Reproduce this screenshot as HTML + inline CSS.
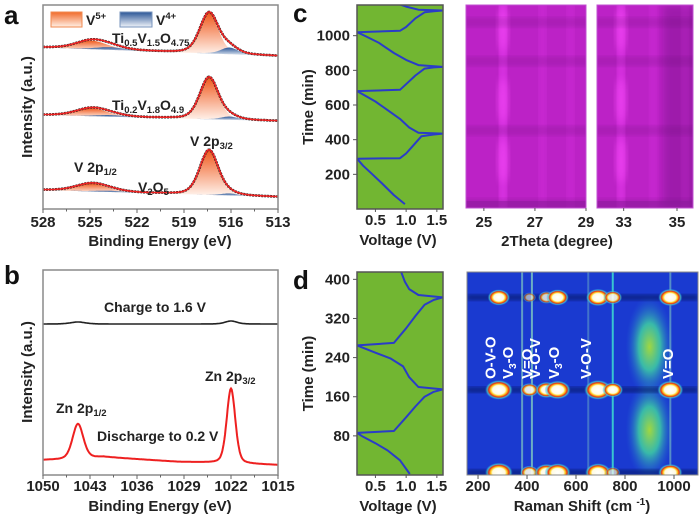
<!DOCTYPE html>
<html><head><meta charset="utf-8"><style>
html,body{margin:0;padding:0;background:#fff;}
svg{display:block;font-family:"Liberation Sans",Arial,sans-serif;font-weight:bold;}
</style></head><body>
<svg id="fig" width="700" height="520" viewBox="0 0 700 520" xmlns="http://www.w3.org/2000/svg">
<defs>
<linearGradient id="gOr" x1="0" y1="0" x2="0" y2="1"><stop offset="0" stop-color="#f05a1e"/><stop offset="1" stop-color="#fff3ec"/></linearGradient>
<linearGradient id="gBl" x1="0" y1="0" x2="0" y2="1"><stop offset="0" stop-color="#2a5596"/><stop offset="1" stop-color="#e4ebf4"/></linearGradient>
<linearGradient id="gOrL" x1="0" y1="0" x2="0" y2="1"><stop offset="0" stop-color="#f06a2a"/><stop offset="1" stop-color="#fff0e6"/></linearGradient>
<linearGradient id="gBlL" x1="0" y1="0" x2="0" y2="1"><stop offset="0" stop-color="#2a5596"/><stop offset="1" stop-color="#f0f4fa"/></linearGradient>
<radialGradient id="spot"><stop offset="0" stop-color="#fff"/><stop offset="0.45" stop-color="#fffbe0"/><stop offset="0.58" stop-color="#ffd020"/><stop offset="0.72" stop-color="#e83010"/><stop offset="0.85" stop-color="#40e0e0" stop-opacity="0.7"/><stop offset="1" stop-color="#2060e0" stop-opacity="0"/></radialGradient>
<radialGradient id="blob"><stop offset="0" stop-color="#b0e830"/><stop offset="0.45" stop-color="#40d8a0" stop-opacity="0.9"/><stop offset="1" stop-color="#2060d8" stop-opacity="0"/></radialGradient>
<filter id="blur2"><feGaussianBlur stdDeviation="2"/></filter>
<filter id="blur4"><feGaussianBlur stdDeviation="4"/></filter>
</defs>
<g id="root"></g>
</svg>
<script>
// ---------------- DATA ----------------
const aSamples = ['V2O5', 'Ti0.2V1.8O4.9', 'Ti0.5V1.5O4.75'];
const aOffsets = [5.9, 43.1, 75.0];
const aV5p32 = [22.0, 20.6, 20.0];
const aV5p12 = [3.9, 3.9, 4.2];
const aV4p32 = [1.0, 1.6, 3.3];
const aV4p12 = [0.6, 0.8, 1.3];
const aPeakCenters = [517.4, 524.9, 516.1, 523.7];
const aPeakWidths = [1.4, 2.4, 1.3, 2.2];
const aBaseSlope = [3.4, 3.0, 4.2];
const aTicks = [528, 525, 522, 519, 516, 513];
const bTicks = [1050, 1043, 1036, 1029, 1022, 1015];
const bBaseE = [1050, 1046, 1041, 1030, 1015];
const bBaseDis = [7.5, 7.8, 9.0, 6.6, 5.0];
const bPeakCenters = [1044.8, 1022.0];
const bPeakDis = [17.5, 37.5];
const bPeakCh = [1.0, 1.5];
const bPeakWidths = [1.9, 1.5];
const bChargeOffset = 75.5;
const cVolt = [0.98,0.8,0.6,0.45,0.3,0.2, 0.2,0.9,1.0,1.1,1.25,1.45,1.6, 1.6,1.2,1.05,0.9,0.7,0.5,0.35,0.2, 0.2,0.9,1.0,1.15,1.3,1.45,1.6, 1.6,1.2,1.0,0.8,0.55,0.35,0.2, 0.2,0.9,1.0,1.15,1.3,1.45,1.6, 1.6,1.2,1.0,0.9];
const cTime = [28,80,150,200,250,290, 290,293,320,360,420,430,435, 435,440,470,520,570,620,650,680, 680,688,720,770,810,817,820, 820,830,860,900,960,995,1020, 1020,1028,1050,1100,1135,1141,1145, 1145,1150,1168,1180];
const cTimeTicks = [200, 400, 600, 800, 1000];
const vTicks = [0.5, 1.0, 1.5];
const xrd1Peaks = [25.75, 27.3, 28.4];
const xrd1Amp = [0.75, 0.3, 0.25];
const xrd2Peaks = [32.9, 34.1, 35.3];
const xrd2Amp = [0.7, 0.25, 0.2];
const xrdDarkTimes = [1080, 860, 470, 60];
const xrdBrightTimes = [1040, 640, 300];
const xrd1Ticks = [25, 27, 29];
const xrd2Ticks = [33, 35];
const dVolt = [1.06,0.9,0.7,0.5,0.3,0.2, 0.2,0.8,1.0,1.15,1.3,1.45,1.6, 1.6,1.2,1.05,0.95,0.75,0.5,0.3,0.2, 0.2,0.8,1.0,1.15,1.3,1.45,1.6, 1.6,1.2,1.05,0.98,0.92];
const dTime = [2,30,50,65,78,86, 86,90,118,140,160,170,175, 175,180,200,222,238,250,260,265, 265,270,300,325,348,358,363, 363,368,380,395,415];
const dTimeTicks = [80, 160, 240, 320, 400];
const ramanLines = [380, 420, 650, 750, 985];
const ramanLineAmp = [0.6, 0.7, 0.35, 0.8, 0.5];
const ramanPeaks = [285, 410, 480, 525, 690, 750, 985];
const ramanSpotTimes = [5, 174, 363];
const ramanSpotAmp = [[1.0,0.5,0.8,0.9,0.9,0.3,0.8],[1.0,0.5,0.7,0.9,1.0,0.6,0.9],[0.7,0.2,0.4,0.7,0.8,0.5,0.8]];
const ramanBlobCenters = [900, 900];
const ramanBlobTimes = [262, 92];
const ramanTicks = [200, 400, 600, 800, 1000];
const ramanLabels = ['O-V-O', 'V3-O', 'V=O', 'V-O-V', 'V3-O', 'V-O-V', 'V=O'];
const ramanLabelPos = [250, 322, 400, 432, 510, 640, 975];

// ---------------- HELPERS ----------------
const NS = 'http://www.w3.org/2000/svg';
const root = document.getElementById('root');
function mk(tag, attrs, parent) {
  const e = document.createElementNS(NS, tag);
  for (const k in attrs) e.setAttribute(k, attrs[k]);
  (parent || root).appendChild(e);
  return e;
}
function lin(d0, d1, r0, r1) { return v => r0 + (v - d0) / (d1 - d0) * (r1 - r0); }
function pv(x, c, w) { const g = Math.exp(-4 * Math.LN2 * (x - c) * (x - c) / (w * w)); const l = 1 / (1 + 4 * (x - c) * (x - c) / (w * w)); return 0.7 * g + 0.3 * l; }
function txt(x, y, s, size, parent, anchor, fill) {
  const t = mk('text', {x: x, y: y, 'font-size': size, 'text-anchor': anchor || 'middle', fill: fill || '#222'}, parent);
  t.textContent = s; return t;
}
function subTxt(x, y, parts, size, parent, anchor, fill) {
  const t = mk('text', {x: x, y: y, 'font-size': size, 'text-anchor': anchor || 'start', fill: fill || '#222'}, parent);
  parts.forEach(p => {
    const s = document.createElementNS(NS, 'tspan');
    if (p[1] === 'sub') { s.setAttribute('font-size', size * 0.68); s.setAttribute('dy', 3); }
    else if (p[1] === 'sup') { s.setAttribute('font-size', size * 0.68); s.setAttribute('dy', -6); }
    else if (p[1] === 'back') { s.setAttribute('dy', -3); }
    s.textContent = p[0]; t.appendChild(s);
  });
  return t;
}
function frame(x0, y0, x1, y1, parent, color) {
  return mk('rect', {x: x0, y: y0, width: x1 - x0, height: y1 - y0, fill: 'none', stroke: color || '#8a8a8a', 'stroke-width': 1.5}, parent);
}

// ---------------- PANEL A ----------------
const ga = mk('g', {});


const axA = lin(528, 513, 43, 278);
const ayA = lin(0, 100, 209, 5);
const la = txt(4, 24, 'a', 26, ga, 'start', '#111');


aSamples.forEach((name, i) => {
  const g = mk('g', {}, ga);
  
  
  const base = e => aOffsets[i] + aBaseSlope[i] * (e - 513) / 15;
  const comps = [aV5p32[i], aV5p12[i], aV4p32[i], aV4p12[i]];
  const E = []; for (let k = 0; k <= 300; k++) E.push(528 - k * 0.05);
  [[0, 'url(#gOr)'], [1, 'url(#gOr)'], [2, 'url(#gBl)'], [3, 'url(#gBl)']].forEach(([ci, fill]) => {
    const c = aPeakCenters[ci], w = aPeakWidths[ci];
    const pts = E.filter(e => Math.abs(e - c) < w * 1.6);
    let d = 'M' + pts.map(e => axA(e).toFixed(1) + ',' + ayA(base(e) + comps[ci] * pv(e, c, w)).toFixed(1)).join(' L');
    d += ' L' + pts.slice().reverse().map(e => axA(e).toFixed(1) + ',' + ayA(base(e)).toFixed(1)).join(' L') + 'Z';
    const p = mk('path', {d: d, fill: fill, stroke: 'none'}, g);
    
    
  });
  const total = e => base(e) + comps.reduce((s, h, ci) => s + h * pv(e, aPeakCenters[ci], aPeakWidths[ci]), 0);
  const d = 'M' + E.map(e => axA(e).toFixed(1) + ',' + ayA(total(e)).toFixed(1)).join(' L');
  const pe = mk('path', {d: d, fill: 'none', stroke: '#222', 'stroke-width': 2.6, 'stroke-dasharray': '2 1'}, g);
  
  
  const pf = mk('path', {d: d, fill: 'none', stroke: '#ee2222', 'stroke-width': 1.6}, g);
  
  
});
const fa = frame(43, 5, 278, 209, ga);


aTicks.forEach((t, i) => {
  mk('line', {x1: axA(t), x2: axA(t), y1: 209, y2: 213, stroke: '#666', 'stroke-width': 1}, ga);
  if (i < aTicks.length - 1) mk('line', {x1: axA(t - 1.5), x2: axA(t - 1.5), y1: 209, y2: 211.5, stroke: '#666', 'stroke-width': 1}, ga);
  const tl = txt(axA(t), 227, String(t), 15, ga);
  
  
});
const xta = txt(160, 246, 'Binding Energy (eV)', 15, ga);


const yta = txt(0, 0, 'Intensity (a.u.)', 15, ga);
yta.setAttribute('transform', 'translate(32,107) rotate(-90)');


const leg5 = mk('rect', {x: 51, y: 12, width: 31, height: 15, fill: 'url(#gOrL)', stroke: '#f08a50', 'stroke-width': 1}, ga);


const lt5 = subTxt(86, 25, [['V'], ['5+', 'sup']], 14, ga);


const leg4 = mk('rect', {x: 120, y: 12, width: 32, height: 15, fill: 'url(#gBlL)', stroke: '#7a95bd', 'stroke-width': 1}, ga);


const lt4 = subTxt(156, 25, [['V'], ['4+', 'sup']], 14, ga);


const an1 = subTxt(112, 43, [['Ti'], ['0.5', 'sub'], ['V', 'back'], ['1.5', 'sub'], ['O', 'back'], ['4.75', 'sub']], 14, ga);


const an2 = subTxt(112, 110, [['Ti'], ['0.2', 'sub'], ['V', 'back'], ['1.8', 'sub'], ['O', 'back'], ['4.9', 'sub']], 14, ga);


const an3 = subTxt(190, 146, [['V 2p'], ['3/2', 'sub']], 14, ga);


const an4 = subTxt(74, 172, [['V 2p'], ['1/2', 'sub']], 14, ga);


const an5 = subTxt(138, 192, [['V'], ['2', 'sub'], ['O', 'back'], ['5', 'sub']], 14, ga);



// ---------------- PANEL B ----------------
const gb = mk('g', {});


const axB = lin(1050, 1015, 43, 278);
const ayB = lin(0, 100, 475, 275);
const lb = txt(4, 284, 'b', 26, gb, 'start', '#111');


function bBase(e) {
  for (let k = 0; k < bBaseE.length - 1; k++) {
    if (e <= bBaseE[k] && e >= bBaseE[k + 1]) { const f = (bBaseE[k] - e) / (bBaseE[k] - bBaseE[k + 1]); return bBaseDis[k] + f * (bBaseDis[k + 1] - bBaseDis[k]); }
  }
  return bBaseDis[bBaseDis.length - 1];
}
const EB = []; for (let k = 0; k <= 350; k++) EB.push(1050 - k * 0.1);
const disD = 'M' + EB.map(e => axB(e).toFixed(1) + ',' + ayB(bBase(e) + bPeakDis.reduce((s, h, i) => s + h * pv(e, bPeakCenters[i], bPeakWidths[i]), 0)).toFixed(1)).join(' L');
const chD = 'M' + EB.map(e => axB(e).toFixed(1) + ',' + ayB(bChargeOffset + bPeakCh.reduce((s, h, i) => s + h * pv(e, bPeakCenters[i], bPeakWidths[i] * 1.4), 0)).toFixed(1)).join(' L');
const pdis = mk('path', {d: disD, fill: 'none', stroke: '#ee2020', 'stroke-width': 2}, gb);


const pch = mk('path', {d: chD, fill: 'none', stroke: '#222', 'stroke-width': 1.6}, gb);


const fb = frame(43, 270, 278, 475, gb);


bTicks.forEach((t, i) => {
  mk('line', {x1: axB(t), x2: axB(t), y1: 475, y2: 479, stroke: '#666', 'stroke-width': 1}, gb);
  if (i < bTicks.length - 1) mk('line', {x1: axB(t - 3.5), x2: axB(t - 3.5), y1: 475, y2: 477.5, stroke: '#666', 'stroke-width': 1}, gb);
  const tl = txt(axB(t), 491, String(t), 15, gb);
  
  
});
const xtb = txt(160, 511, 'Binding Energy (eV)', 15, gb);


const ytb = txt(0, 0, 'Intensity (a.u.)', 15, gb);
ytb.setAttribute('transform', 'translate(32,372) rotate(-90)');


const bt1 = txt(155, 312, 'Charge to 1.6 V', 14, gb);


const bt2 = subTxt(205, 381, [['Zn 2p'], ['3/2', 'sub']], 14, gb);


const bt3 = subTxt(56, 413, [['Zn 2p'], ['1/2', 'sub']], 14, gb);


const bt4 = txt(97, 441, 'Discharge to 0.2 V', 14, gb, 'start');



// ---------------- VOLTAGE PANELS ----------------
function voltagePanel(y0, y1, tMax, volts, times, ticks, name, letter) {
  const g = mk('g', {});
  
  
  const ax = lin(0.2, 1.6, 357, 443);
  const ay = lin(0, tMax, y1, y0);
  const bg = mk('rect', {x: 357, y: y0, width: 86, height: y1 - y0, fill: '#72b632'}, g);
  
  
  const d = 'M' + volts.map((v, i) => ax(v).toFixed(1) + ',' + ay(times[i]).toFixed(1)).join(' L');
  const cp = mk('clipPath', {id: 'clip' + letter}, g);
  mk('rect', {x: 357, y: y0, width: 86, height: y1 - y0}, cp);
  const line = mk('path', {d: d, fill: 'none', stroke: '#2a3cc8', 'stroke-width': 2, 'stroke-linejoin': 'round', 'clip-path': 'url(#clip' + letter + ')'}, g);
  
  
  const f = frame(357, y0, 443, y1, g, '#555');
  
  
  ticks.forEach(t => {
    mk('line', {x1: 353, x2: 357, y1: ay(t), y2: ay(t), stroke: '#555', 'stroke-width': 1}, g);
    const tl = txt(350, ay(t) + 5, String(t), 15, g, 'end');
    
    
  });
  vTicks.forEach(v => {
    mk('line', {x1: ax(v), x2: ax(v), y1: y1, y2: y1 + 3, stroke: '#555', 'stroke-width': 1}, g);
    const tl = txt(ax(v), y1 + 16, v.toFixed(1), 15, g);
    
    
  });
  const xt = txt(398, y1 + 36, 'Voltage (V)', 15, g);
  
  
  const yt = txt(0, 0, 'Time (min)', 15, g);
  yt.setAttribute('transform', 'translate(313,' + ((y0 + y1) / 2) + ') rotate(-90)');
  
  
  const pl = txt(293, y0 + 17, letter, 26, g, 'start', '#111');
  
  
  return g;
}
voltagePanel(5, 209, 1177, cVolt, cTime, cTimeTicks, 'panel-c-voltage', 'c');
voltagePanel(272, 475, 415, dVolt, dTime, dTimeTicks, 'panel-d-voltage', 'd');

// ---------------- XRD HEATMAPS ----------------
function xrdPanel(x0, x1, th0, th1, peaks, amps, ticks, name, darkRight) {
  const g = mk('g', {});
  
  
  const ax = lin(th0, th1, x0, x1);
  const ay = lin(0, 1177, 214, 5);
  const cid = 'c' + name;
  const cp = mk('clipPath', {id: cid}, g);
  mk('rect', {x: x0, y: 5, width: x1 - x0, height: 203}, cp);
  const inner = mk('g', {'clip-path': 'url(#' + cid + ')'}, g);
  const bg = mk('rect', {x: x0, y: 5, width: x1 - x0, height: 203, fill: '#bc22c6'}, inner);
  
  
  if (darkRight) mk('rect', {x: x1 - 30, y: 5, width: 40, height: 203, fill: '#5a0a70', opacity: 0.3, filter: 'url(#blur4)'}, inner);
  peaks.forEach((p, i) => {
    const s = mk('rect', {x: ax(p) - 3.5, y: 0, width: 7, height: 215, fill: '#f040f8', opacity: amps[i], filter: 'url(#blur4)'}, inner);
    
    
  });
  xrdBrightTimes.forEach(t => {
    const b = mk('ellipse', {cx: ax(peaks[0]), cy: ay(t), rx: 6, ry: 22, fill: '#ff50ff', opacity: 0.45, filter: 'url(#blur4)'}, inner);
    
    
  });
  xrdDarkTimes.forEach(t => {
    const b = mk('rect', {x: x0 - 5, y: ay(t) - 5, width: x1 - x0 + 10, height: 10, fill: '#601070', opacity: 0.18, filter: 'url(#blur2)'}, inner);
    
    
  });
  mk('rect', {x: x0, y: 201, width: x1 - x0, height: 7, fill: '#8a1a9a', opacity: 0.5}, inner);
  mk('rect', {x: x0, y: 5, width: x1 - x0, height: 203, fill: 'none', stroke: '#c050d0', 'stroke-width': 1}, g);
  ticks.forEach(t => {
    mk('line', {x1: ax(t), x2: ax(t), y1: 208, y2: 211, stroke: '#555', 'stroke-width': 1}, g);
    const tl = txt(ax(t), 227, String(t), 15, g);
    
    
  });
  return g;
}
xrdPanel(466, 586, 24.3, 29.0, xrd1Peaks, xrd1Amp, xrd1Ticks, 'xrd-heatmap-1', false);
xrdPanel(597, 693, 32.0, 35.6, xrd2Peaks, xrd2Amp, xrd2Ticks, 'xrd-heatmap-2', true);
const xrdT = txt(557, 246, '2Theta (degree)', 15);



// ---------------- RAMAN HEATMAP ----------------
const gr = mk('g', {});


const axR = lin(155, 1098, 467, 698);
const ayR = lin(0, 415, 475, 272);
const cpR = mk('clipPath', {id: 'clipR'}, gr);
mk('rect', {x: 467, y: 272, width: 231, height: 203}, cpR);
const rin = mk('g', {'clip-path': 'url(#clipR)'}, gr);
const rbg = mk('rect', {x: 467, y: 272, width: 231, height: 203, fill: '#1a3ad0'}, rin);


ramanBlobCenters.forEach((c, i) => {
  const b = mk('ellipse', {cx: axR(c), cy: ayR(ramanBlobTimes[i]), rx: 24, ry: 52, fill: 'url(#blob)', opacity: 0.9}, rin);
  
  
});
ramanSpotTimes.forEach(t => {
  const dk = mk('rect', {x: 467, y: ayR(t) - 3, width: 231, height: 6, fill: '#04104a', opacity: 0.5, filter: 'url(#blur2)'}, rin);
  
  
});
ramanLines.forEach((c, i) => {
  const l = mk('rect', {x: axR(c) - 1, y: 272, width: 2, height: 203, fill: i === 3 ? '#40e8d0' : '#90e0c0', opacity: ramanLineAmp[i]}, rin);
  
  
});
ramanSpotTimes.forEach((t, ti) => {
  ramanPeaks.forEach((p, pi) => {
    const a = ramanSpotAmp[ti][pi];
    const s = mk('ellipse', {cx: axR(p), cy: ayR(t), rx: 5 + 9 * a, ry: 4 + 6 * a, fill: 'url(#spot)', opacity: Math.min(1, 0.4 + a)}, rin);
    
    
  });
});
const fr = mk('rect', {x: 467, y: 272, width: 231, height: 203, fill: 'none', stroke: '#888', 'stroke-width': 1}, gr);


ramanTicks.forEach(t => {
  mk('line', {x1: axR(t), x2: axR(t), y1: 475, y2: 479, stroke: '#555', 'stroke-width': 1}, gr);
  const tl = txt(axR(t), 491, String(t), 15, gr);
  
  
});
const rt = mk('text', {x: 582, y: 511, 'font-size': 15, 'text-anchor': 'middle', fill: '#222'}, gr);
rt.textContent = 'Raman Shift (cm ';
const rts = document.createElementNS(NS, 'tspan');
rts.setAttribute('font-size', 10); rts.setAttribute('dy', -6); rts.textContent = '-1';
rt.appendChild(rts);
const rts2 = document.createElementNS(NS, 'tspan');
rts2.setAttribute('dy', 6); rts2.textContent = ')';
rt.appendChild(rts2);


ramanLabels.forEach((lab, i) => {
  const x = axR(ramanLabelPos[i]) + 5;
  let t;
  if (lab.indexOf('V3') === 0) t = subTxt(0, 0, [['V'], ['3', 'sub'], ['-O', 'back']], 15, gr, 'start', '#fff');
  else t = subTxt(0, 0, [[lab]], 15, gr, 'start', '#fff');
  t.setAttribute('transform', 'translate(' + x.toFixed(1) + ',379) rotate(-90)');
  
  
});
</script>
</body></html>
